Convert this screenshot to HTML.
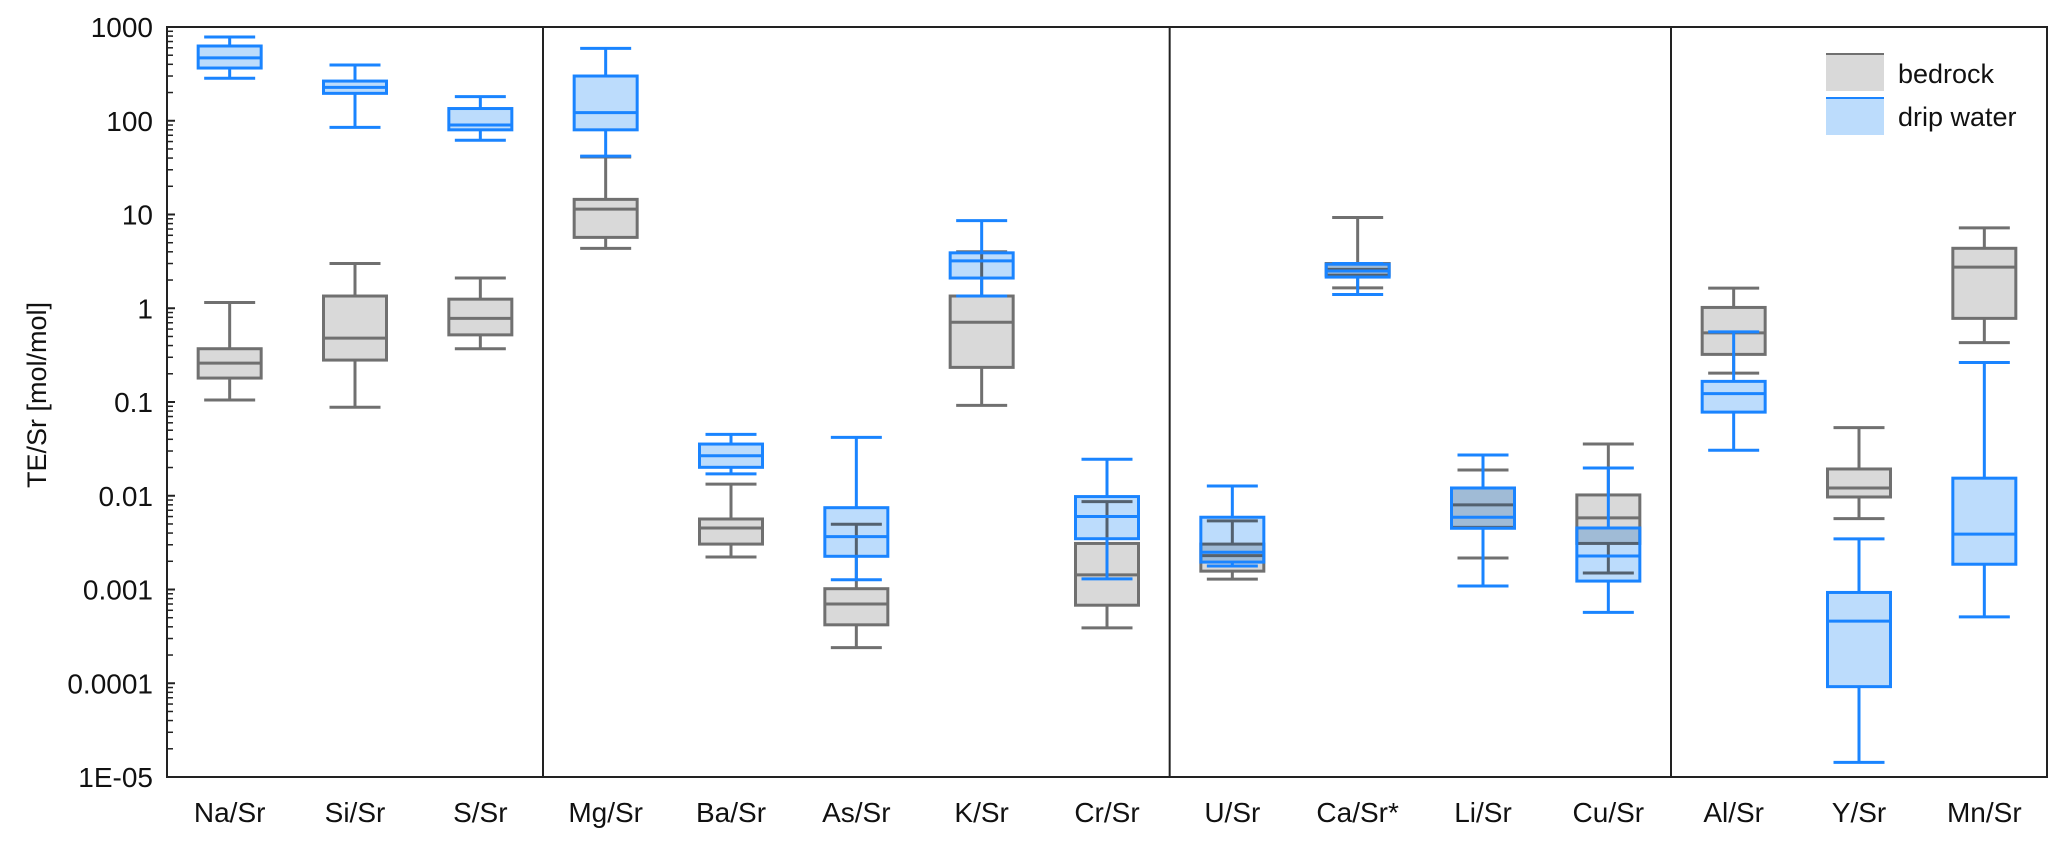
<!DOCTYPE html>
<html><head><meta charset="utf-8">
<style>
html,body{margin:0;padding:0;background:#fff;}
svg{display:block;font-family:"Liberation Sans",sans-serif;}
.mul{mix-blend-mode:multiply;}
</style></head>
<body>
<svg id="chart" width="2067" height="847" viewBox="0 0 2067 847" xmlns="http://www.w3.org/2000/svg">
<g id="grey"></g>
<g id="blue"></g>
<g id="axes"></g>
</svg>
<script>
const categories = ["Na/Sr","Si/Sr","S/Sr","Mg/Sr","Ba/Sr","As/Sr","K/Sr","Cr/Sr","U/Sr","Ca/Sr*","Li/Sr","Cu/Sr","Al/Sr","Y/Sr","Mn/Sr"];
// [whiskerTop, q3, median, q1, whiskerBottom]
const bedrock = [
 [1.15,0.37,0.26,0.18,0.105],
 [3.0,1.35,0.48,0.28,0.088],
 [2.1,1.25,0.78,0.52,0.37],
 [41,14.5,11.4,5.7,4.35],
 [0.0133,0.00565,0.00453,0.00305,0.00222],
 [0.00496,0.00102,0.0007,0.00042,0.00024],
 [4.0,1.35,0.71,0.234,0.092],
 [0.00865,0.0031,0.00143,0.00068,0.00039],
 [0.0054,0.00305,0.0023,0.00157,0.00129],
 [9.3,3.0,2.6,2.25,1.65],
 [0.0188,0.0121,0.008,0.0046,0.00217],
 [0.0356,0.0102,0.0058,0.0031,0.0015],
 [1.64,1.02,0.547,0.322,0.203],
 [0.0533,0.0193,0.0121,0.0097,0.0057],
 [7.2,4.36,2.75,0.78,0.43]
];
const dripWater = [
 [782,627,468,365,284],
 [393,265,227,196,85],
 [181,135,90,80,62],
 [592,300,122,80,42],
 [0.0452,0.0356,0.0267,0.0201,0.0171],
 [0.042,0.00746,0.00366,0.00226,0.00127],
 [8.6,3.9,3.2,2.1,1.35],
 [0.0245,0.0098,0.006,0.00348,0.0013],
 [0.0127,0.0059,0.0025,0.00196,0.00178],
 [3.0,2.95,2.5,2.15,1.4],
 [0.0272,0.0121,0.0059,0.0045,0.00109],
 [0.0198,0.00453,0.00228,0.00123,0.00057],
 [0.56,0.166,0.123,0.078,0.0306],
 [0.00347,0.00093,0.00046,0.000092,0.0000143],
 [0.264,0.0154,0.0039,0.00186,0.00051]
];
const yTickValues = [1000,100,10,1,0.1,0.01,0.001,0.0001,0.00001];
const yTickLabels = ["1000","100","10","1","0.1","0.01","0.001","0.0001","1E-05"];
const groupBreaks = [3,8,12];

const L=167,R=2047,T=27,B=777;
const slot=(R-L)/categories.length;
function xS(i){return L+(i+0.5)*slot;}
function yS(v){return T+(3-Math.log10(v))*(B-T)/8;}
const NS="http://www.w3.org/2000/svg";
function mk(tag,attrs,parent){const e=document.createElementNS(NS,tag);for(const k in attrs)e.setAttribute(k,attrs[k]);parent.appendChild(e);return e;}

function drawBox(g,i,d,stroke,fill,blend,nm){
  const cx=xS(i),bw=63,cw=51;
  const grp=mk('g',{},g);
  
  
  const sw=3;
  const fr=mk('rect',{x:cx-bw/2,y:yS(d[1]),width:bw,height:yS(d[3])-yS(d[1]),fill:fill,stroke:'none'},grp);
  if(blend) fr.setAttribute('class','mul');
  mk('line',{x1:cx,x2:cx,y1:yS(d[0]),y2:yS(d[1]),stroke:stroke,'stroke-width':sw},grp);
  mk('line',{x1:cx,x2:cx,y1:yS(d[3]),y2:yS(d[4]),stroke:stroke,'stroke-width':sw},grp);
  mk('line',{x1:cx-cw/2,x2:cx+cw/2,y1:yS(d[0]),y2:yS(d[0]),stroke:stroke,'stroke-width':sw},grp);
  mk('line',{x1:cx-cw/2,x2:cx+cw/2,y1:yS(d[4]),y2:yS(d[4]),stroke:stroke,'stroke-width':sw},grp);
  mk('rect',{x:cx-bw/2,y:yS(d[1]),width:bw,height:yS(d[3])-yS(d[1]),fill:'none',stroke:stroke,'stroke-width':sw},grp);
  mk('line',{x1:cx-bw/2,x2:cx+bw/2,y1:yS(d[2]),y2:yS(d[2]),stroke:stroke,'stroke-width':sw},grp);
}
const gG=document.getElementById('grey'),gB=document.getElementById('blue'),ax=document.getElementById('axes');
bedrock.forEach((d,i)=>drawBox(gG,i,d,'#707070','#d9d9d9',false,'bedrock-box'));
dripWater.forEach((d,i)=>drawBox(gB,i,d,'#1a84ff','#bcdcfc',true,'drip-water-box'));

const fr=mk('rect',{x:L,y:T,width:R-L,height:B-T,fill:'none',stroke:'#222','stroke-width':2},ax);


groupBreaks.forEach(b=>{
  const ln=mk('line',{x1:L+b*slot,x2:L+b*slot,y1:T,y2:B,stroke:'#222','stroke-width':2},ax);
  
  
});
yTickValues.forEach((v,k)=>{
  const y=yS(v);
  mk('line',{x1:L,x2:L+8,y1:y,y2:y,stroke:'#222','stroke-width':2},ax);
  const t=mk('text',{x:153,y:y+10,'text-anchor':'end','font-size':28,fill:'#111'},ax);
  t.textContent=yTickLabels[k];
  
  
  if(k<yTickValues.length-1){
    for(let m=2;m<=9;m++){const ym=yS(v/10*m);mk('line',{x1:L,x2:L+6,y1:ym,y2:ym,stroke:'#222','stroke-width':1.5},ax);}
  }
});
categories.forEach((c,i)=>{
  const t=mk('text',{x:xS(i),y:822,'text-anchor':'middle','font-size':28,fill:'#111'},ax);
  t.textContent=c;
  
  
});
const yt=mk('text',{x:0,y:0,transform:'translate(46,395) rotate(-90)','text-anchor':'middle','font-size':27,fill:'#111'},ax);
yt.textContent='TE/Sr [mol/mol]';


const lg=mk('g',{},ax);


mk('rect',{x:1826,y:54,width:58,height:37,fill:'#d9d9d9'},lg);
mk('line',{x1:1826,x2:1884,y1:54,y2:54,stroke:'#707070','stroke-width':2},lg);
mk('rect',{x:1826,y:98,width:58,height:37,fill:'#bcdcfc'},lg);
mk('line',{x1:1826,x2:1884,y1:98,y2:98,stroke:'#1a84ff','stroke-width':2},lg);
const l1=mk('text',{x:1898,y:83,'font-size':27,fill:'#111'},lg);l1.textContent='bedrock';


const l2=mk('text',{x:1898,y:126,'font-size':27,fill:'#111'},lg);l2.textContent='drip water';


</script>
</body></html>
